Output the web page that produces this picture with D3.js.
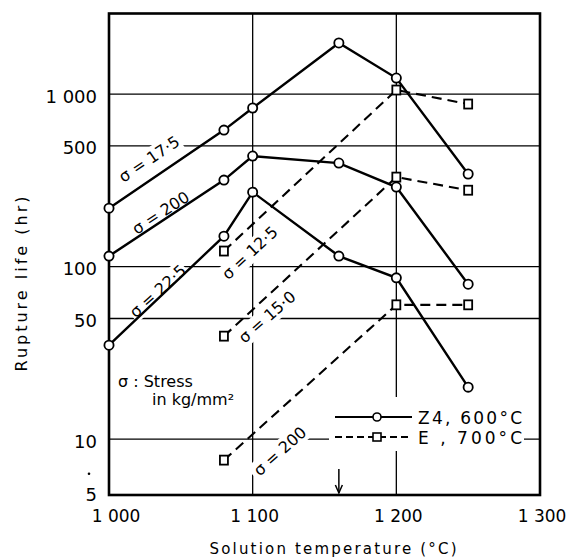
<!DOCTYPE html>
<html><head><meta charset="utf-8">
<script src="https://cdn.jsdelivr.net/npm/d3@7/dist/d3.min.js"></script>
<style>body{margin:0;background:#fff}svg{display:block}text{font-family:"DejaVu Sans",sans-serif;fill:#000}</style>
</head><body><svg id="c" width="567" height="559"></svg>
<script>
// ---- data ----
const z4Temps = [1000, 1080, 1100, 1160, 1200, 1250];
const z4_175 = [218, 618, 830, 1977, 1238, 344];
const z4_200 = [115, 317, 437, 398, 289, 79];
const z4_225 = [35, 150, 270, 115, 86, 20];
const eTemps = [1080, 1200, 1250];
const e_125 = [123, 1055, 875];
const e_150 = [39.5, 330, 277];
const e_200 = [7.55, 60, 60];
const xTicks = [1000, 1100, 1200, 1300];
const xTickLabels = ["1 000", "1 100", "1 200", "1 300"];
const yTicks = [1000, 500, 100, 50, 10, 5];
const yTickLabels = ["1 000", "500", "100", "50", "10", "5"];
const strayDotValue = 6.3;
const yGrid = [1000, 500, 100, 50, 10];
const xGrid = [1100, 1200];
const arrowTemp = 1160;
const seriesLabels = [
  {text: "σ = 17·5", t: 1028, v: 420, a: -34},
  {text: "σ = 200", t: 1036, v: 205, a: -33},
  {text: "σ = 22·5", t: 1034, v: 72, a: -42},
  {text: "σ = 12·5", t: 1098, v: 120, a: -43},
  {text: "σ = 15·0", t: 1110, v: 51, a: -41},
  {text: "σ = 200", t: 1119, v: 8.5, a: -42}
];

const svg = d3.select("#c");
const x = d3.scaleLinear().domain([1000, 1300]).range([109, 540]);
const y = d3.scaleLog().domain([4.74, 2930]).range([495, 13.5]);
const L = x.range()[0], R = x.range()[1], T = y.range()[1], B = y.range()[0];

// grid
const g = svg.append("g").attr("stroke", "#000").attr("stroke-width", 1.3);
yGrid.forEach(v => g.append("line").attr("x1", L).attr("x2", R).attr("y1", y(v)).attr("y2", y(v)));
xGrid.forEach(t => g.append("line").attr("y1", T).attr("y2", B).attr("x1", x(t)).attr("x2", x(t)));

// label backgrounds (break grid lines)
const lblG = svg.append("g");
seriesLabels.forEach(d => {
  lblG.append("rect").attr("x", -36).attr("y", -10).attr("width", 72).attr("height", 20)
    .attr("fill", "#fff")
    .attr("transform", `translate(${x(d.t)},${y(d.v)}) rotate(${d.a})`);
});
// legend background
svg.append("rect").attr("x", 329).attr("y", 397).attr("width", 195).attr("height", 54).attr("fill", "#fff");

// frame
svg.append("rect").attr("x", L).attr("y", T).attr("width", R - L).attr("height", B - T)
  .attr("fill", "none").attr("stroke", "#000").attr("stroke-width", 2.6);

// lines
const line = d3.line().x(d => x(d[0])).y(d => y(d[1]));
const solid = [z4_175, z4_200, z4_225];
const dashed = [e_125, e_150, e_200];
solid.forEach(s => svg.append("path").datum(z4Temps.map((t, i) => [t, s[i]]))
  .attr("d", line).attr("fill", "none").attr("stroke", "#000").attr("stroke-width", 2.4));
dashed.forEach(s => svg.append("path").datum(eTemps.map((t, i) => [t, s[i]]))
  .attr("d", line).attr("fill", "none").attr("stroke", "#000").attr("stroke-width", 2.1)
  .attr("stroke-dasharray", "10,6"));
solid.forEach(s => z4Temps.forEach((t, i) => svg.append("circle").attr("cx", x(t)).attr("cy", y(s[i]))
  .attr("r", 4.6).attr("fill", "#fff").attr("stroke", "#000").attr("stroke-width", 1.8)));
dashed.forEach(s => eTemps.forEach((t, i) => svg.append("rect").attr("x", x(t) - 4).attr("y", y(s[i]) - 4.5)
  .attr("width", 8).attr("height", 9).attr("fill", "#fff").attr("stroke", "#000").attr("stroke-width", 1.8)));

// series labels
seriesLabels.forEach(d => {
  svg.append("text").text(d.text).attr("font-size", 16).attr("text-anchor", "middle")
    .attr("dominant-baseline", "central")
    .attr("transform", `translate(${x(d.t)},${y(d.v)}) rotate(${d.a})`);
});

// axes tick labels
yTicks.forEach((v, i) => svg.append("text").text(yTickLabels[i]).attr("x", 97).attr("y", y(v) + (v === 5 ? 4 : 2))
  .attr("text-anchor", "end").attr("dominant-baseline", "central").attr("font-size", 18));
svg.append("circle").attr("cx", 89).attr("cy", y(strayDotValue)).attr("r", 1.3).attr("fill", "#000");
xTicks.forEach((t, i) => svg.append("text").text(xTickLabels[i]).attr("x", x(t) + (i === 0 ? 7 : 2)).attr("y", 516)
  .attr("text-anchor", "middle").attr("dominant-baseline", "central").attr("font-size", 17));
svg.append("text").text("Solution temperature  (°C)").attr("x", 333).attr("y", 549)
  .attr("text-anchor", "middle").attr("dominant-baseline", "central").attr("font-size", 15)
  .attr("textLength", 247).attr("lengthAdjust", "spacing");
svg.append("text").text("Rupture life  (hr)").attr("transform", "translate(21,284) rotate(-90)")
  .attr("text-anchor", "middle").attr("dominant-baseline", "central").attr("font-size", 16)
  .attr("textLength", 175).attr("lengthAdjust", "spacing");

// stress note
svg.append("text").text("σ : Stress").attr("x", 118).attr("y", 381).attr("dominant-baseline", "central").attr("font-size", 16);
svg.append("text").text("in kg/mm²").attr("x", 152).attr("y", 399).attr("dominant-baseline", "central").attr("font-size", 16);

// legend
const lg = svg.append("g");
[[417, null, "Z4, 600°C"], [437, "7,4", "E , 700°C"]].forEach((r, i) => {
  lg.append("line").attr("x1", 335).attr("x2", 412).attr("y1", r[0]).attr("y2", r[0])
    .attr("stroke", "#000").attr("stroke-width", 2).attr("stroke-dasharray", r[1]);
  if (i === 0) lg.append("circle").attr("cx", 377).attr("cy", r[0]).attr("r", 4).attr("fill", "#fff").attr("stroke", "#000").attr("stroke-width", 1.6);
  else lg.append("rect").attr("x", 373).attr("y", r[0] - 4).attr("width", 8).attr("height", 8).attr("fill", "#fff").attr("stroke", "#000").attr("stroke-width", 1.6);
  lg.append("text").text(r[2]).attr("x", 418).attr("y", r[0] + 1).attr("dominant-baseline", "central")
    .attr("font-size", 17).attr("textLength", 104).attr("lengthAdjust", "spacing");
});

// arrow at 1160
const ax = x(arrowTemp);
svg.append("line").attr("x1", ax).attr("x2", ax).attr("y1", 469).attr("y2", B - 2).attr("stroke", "#000").attr("stroke-width", 1.5);
svg.append("path").attr("d", `M${ax - 3.5},${B - 10} L${ax},${B - 2} L${ax + 3.5},${B - 10}`).attr("fill", "none").attr("stroke", "#000").attr("stroke-width", 1.5);
</script></body></html>
